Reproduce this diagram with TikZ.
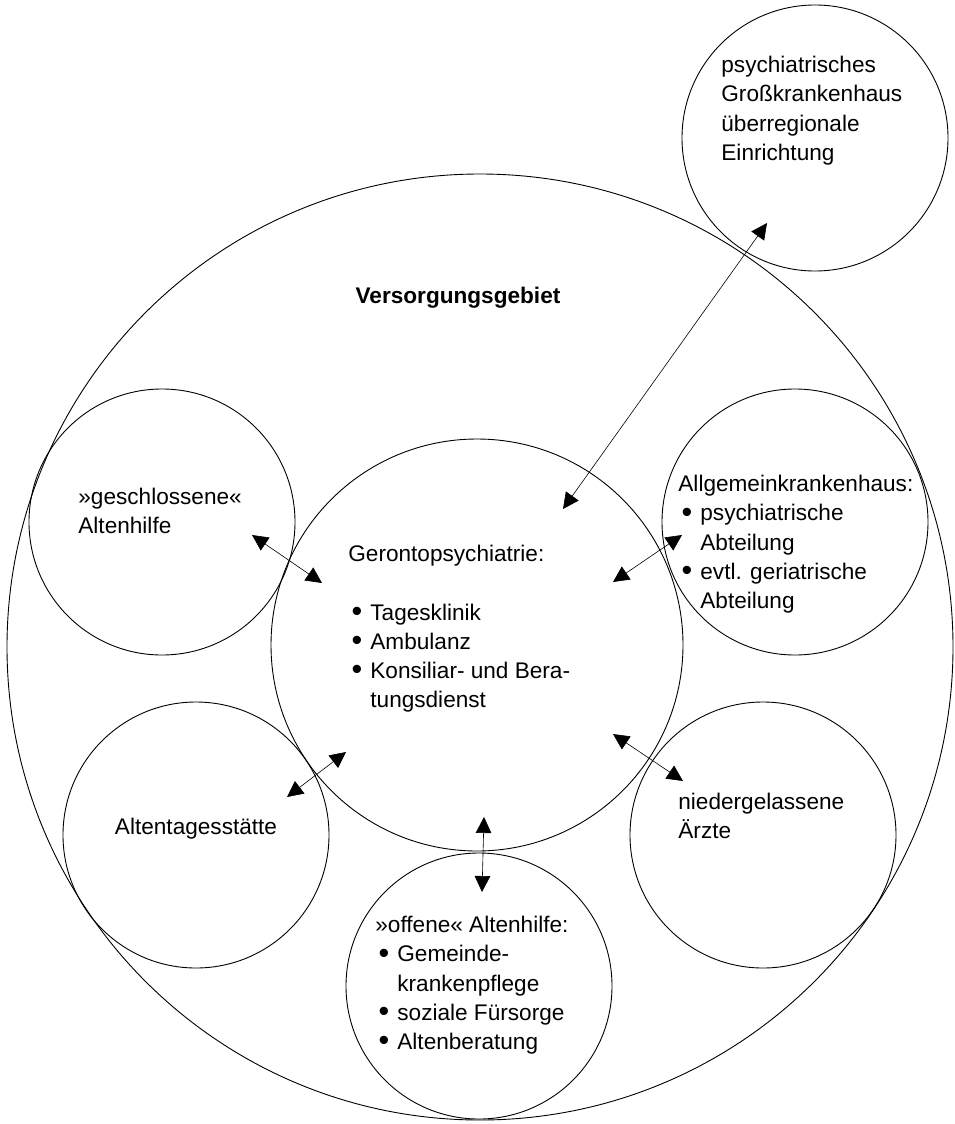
\documentclass[tikz,border=0pt]{standalone}
\usepackage{fontspec}
\setmainfont{Liberation Sans}
\usetikzlibrary{arrows.meta}
\newcommand\bul{\makebox[11pt][l]{\hspace{1.6pt}\raisebox{-0.7pt}{\scalebox{1.35}{\textbullet}}}}
\newcommand\ind{\hspace*{11pt}}

\begin{document}
\begin{tikzpicture}[x=0.5pt,y=-0.5pt,every node/.style={font=\fontsize{11.3}{14.6}\selectfont,align=left,inner sep=0pt},ring/.style={draw,circle,line width=0.45pt,minimum size=133pt},link/.style={{Triangle[length=8pt,width=7.8pt]}-{Triangle[length=8pt,width=7.8pt]},line width=0.3pt}]
\useasboundingbox (0,0) rectangle (954,1124);
% circles
\node[ring,minimum size=473pt] (gebiet) at (480,647) {};
\node[ring,minimum size=206pt] (geronto) at (477,645) {};
\node[ring] (gross) at (815,138) {};
\node[ring] (geschl) at (162,522) {};
\node[ring] (allg) at (795,522) {};
\node[ring] (tages) at (196,835) {};
\node[ring] (aerzte) at (763,835) {};
\node[ring] (offen) at (479,986) {};
% texts
\node[font=\fontsize{11.3}{14.6}\selectfont\bfseries] (gebietT) at (458,298) {Versorgungsgebiet};
\node[anchor=north west] (grossT) at (721,56) {psychiatrisches\\Großkrankenhaus\\überregionale\\Einrichtung};
\node[anchor=north west] (gerontoT) at (348,545) {Gerontopsychiatrie:\\[14.6pt]\bul Tagesklinik\\\bul Ambulanz\\\bul Konsiliar- und Bera-\\\ind tungsdienst};
\node[anchor=north west] (geschlT) at (78,488) {»geschlossene«\\Altenhilfe};
\node[anchor=north west] (allgT) at (678,475) {Allgemeinkrankenhaus:\\\bul psychiatrische\\\ind Abteilung\\\bul evtl. geriatrische\\\ind Abteilung};
\node (tagesT) at (196,829) {Altentagesstätte};
\node[anchor=north west] (aerzteT) at (678,793) {niedergelassene\\Ärzte};
\node[anchor=north west] (offenT) at (375,916) {»offene« Altenhilfe:\\\bul Gemeinde-\\\ind krankenpflege\\\bul soziale Fürsorge\\\bul Altenberatung};
% arrow ends
\coordinate (geschlEnd) at (252,535);
\coordinate (gerontoNW) at (322,583);
\coordinate (allgEnd) at (682,535);
\coordinate (gerontoNE) at (613,582);
\coordinate (tagesEnd) at (287,797);
\coordinate (gerontoSW) at (346,752);
\coordinate (aerzteEnd) at (683,781);
\coordinate (gerontoSE) at (613,734);
\coordinate (offenEnd) at (482,892);
\coordinate (gerontoS) at (484,817);
\coordinate (grossEnd) at (767,223);
\coordinate (gerontoN) at (563,509);
\draw[link] (geschlEnd) -- (gerontoNW);
\draw[link] (allgEnd) -- (gerontoNE);
\draw[link] (tagesEnd) -- (gerontoSW);
\draw[link] (aerzteEnd) -- (gerontoSE);
\draw[link] (offenEnd) -- (gerontoS);
\draw[link] (grossEnd) -- (gerontoN);
\end{tikzpicture}
\end{document}
